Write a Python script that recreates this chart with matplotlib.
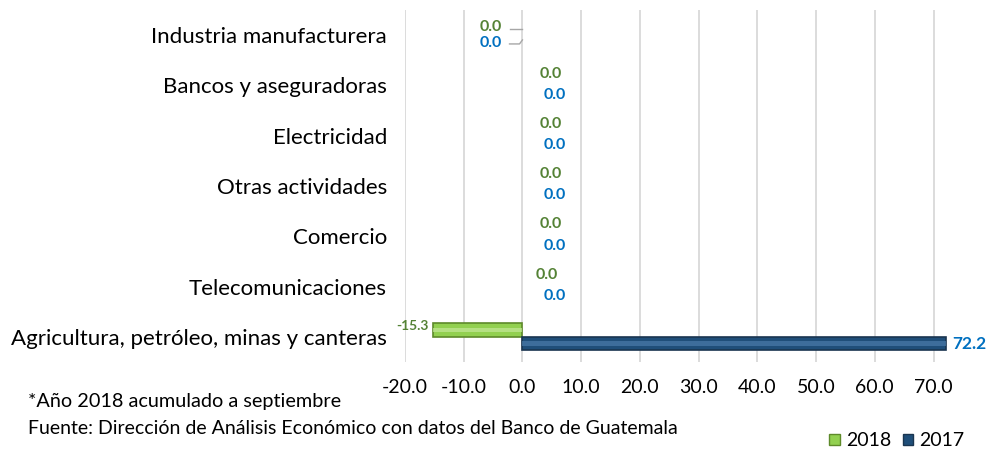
import numpy as np
import matplotlib.pyplot as plt
from matplotlib.patches import Patch

plt.rcParams['font.family'] = ['Lato', 'DejaVu Sans']

# datos
categorias = ['Industria manufacturera', 'Bancos y aseguradoras', 'Electricidad',
              'Otras actividades', 'Comercio', 'Telecomunicaciones',
              'Agricultura, petróleo, minas y canteras']
v2018 = [0.0, 0.0, 0.0, 0.0, 0.0, 0.0, -15.3]
v2017 = [0.0, 0.0, 0.0, 0.0, 0.0, 0.0, 72.2]
ticks_x = [-20, -10, 0, 10, 20, 30, 40, 50, 60, 70]

verde = '#92D050'
verde_borde = '#5E8A2A'
verde_txt = '#548235'
azul = '#1F4E79'
azul_borde = '#1A3550'
azul_claro = '#4A7BAA'
azul_txt = '#0070C0'

fig = plt.figure(figsize=(9.92, 4.49), dpi=100)
ax = fig.add_axes([405/992, 1 - 362/449, (957 - 405)/992, (362 - 10)/449])

y = np.arange(len(categorias))
h = 0.27
y18 = y - h/2
y17 = y + h/2

# barras con un ligero brillo interior (sin borde cuando el valor es cero)
lw18 = [1.2 if v != 0 else 0 for v in v2018]
lw17 = [1.2 if v != 0 else 0 for v in v2017]
ax.barh(y18, v2018, height=h, color=verde, edgecolor=verde_borde, linewidth=lw18, zorder=3)
ax.barh(y18, v2018, height=h*0.35, color='#C5E89A', linewidth=0, alpha=0.7, zorder=4)
ax.barh(y17, v2017, height=h, color=azul, edgecolor=azul_borde, linewidth=lw17, zorder=3)
ax.barh(y17, v2017, height=h*0.35, color=azul_claro, linewidth=0, alpha=0.7, zorder=4)

ax.set_xlim(-20, 74)
ax.set_ylim(len(categorias) - 0.5, -0.5)
ax.set_xticks(ticks_x)
ax.set_xticklabels([f'{t:.1f}' for t in ticks_x], fontsize=14)
ax.set_yticks(y)
ax.set_yticklabels(categorias, fontsize=16)
ax.tick_params(axis='both', length=0)
ax.tick_params(axis='x', pad=12)
ax.tick_params(axis='y', pad=13)
ax.grid(axis='x', color='#D9D9D9', linewidth=1.3, zorder=0)
for s in ax.spines.values():
    s.set_visible(False)

# etiquetas de datos
for i, (a, b) in enumerate(zip(v2018, v2017)):
    if a < 0:
        ax.text(a - 0.6, y18[i] - 0.08, f'{a:.1f}', color=verde_txt, fontsize=10,
                fontweight='bold', ha='right', va='center', zorder=5)
    elif i == 0:
        ax.text(-3.5, y18[i] - 0.02, f'{a:.1f}', color=verde_txt, fontsize=11.5,
                fontweight='bold', ha='right', va='center', zorder=5)
        ax.plot([-2.2, 0], [y18[i] + 0.02, y18[i] + 0.02], color='#A6A6A6', lw=1, zorder=5)
    else:
        ax.text(4.9 if i < 5 else 4.2, y18[i] - 0.1, f'{a:.1f}', color=verde_txt,
                fontsize=11.5, fontweight='bold', ha='center', va='center', zorder=5)
    if b > 0:
        ax.text(b + 1.0, y17[i], f'{b:.1f}', color=azul_txt, fontsize=12.5,
                fontweight='bold', ha='left', va='center', zorder=5, clip_on=False)
    elif i == 0:
        ax.text(-3.5, y17[i] + 0.02, f'{b:.1f}', color=azul_txt, fontsize=11.5,
                fontweight='bold', ha='right', va='center', zorder=5)
        ax.plot([-2.2, -0.5, 0], [y17[i] + 0.04, y17[i] + 0.04, y17[i] - 0.04],
                color='#A6A6A6', lw=1, zorder=5)
    else:
        ax.text(5.5, y17[i] + 0.05, f'{b:.1f}', color=azul_txt, fontsize=11.5,
                fontweight='bold', ha='center', va='center', zorder=5)

# notas
fig.text(28/992, 1 - 402/449, '*Año 2018 acumulado a septiembre', fontsize=14.3, va='center')
fig.text(28/992, 1 - 428/449, 'Fuente: Dirección de Análisis Económico con datos del Banco de Guatemala',
         fontsize=14, va='center')

# leyenda
handles = [Patch(facecolor=verde, edgecolor=verde_borde, label='2018'),
           Patch(facecolor=azul, edgecolor=azul_borde, label='2017')]
fig.legend(handles=handles, loc='center right', bbox_to_anchor=(972/992, 1 - 441/449),
           ncol=2, frameon=False, fontsize=14, handlelength=0.55, handleheight=0.55,
           handletextpad=0.3, columnspacing=0.6, borderaxespad=0)

plt.savefig('out.png', dpi=100)
